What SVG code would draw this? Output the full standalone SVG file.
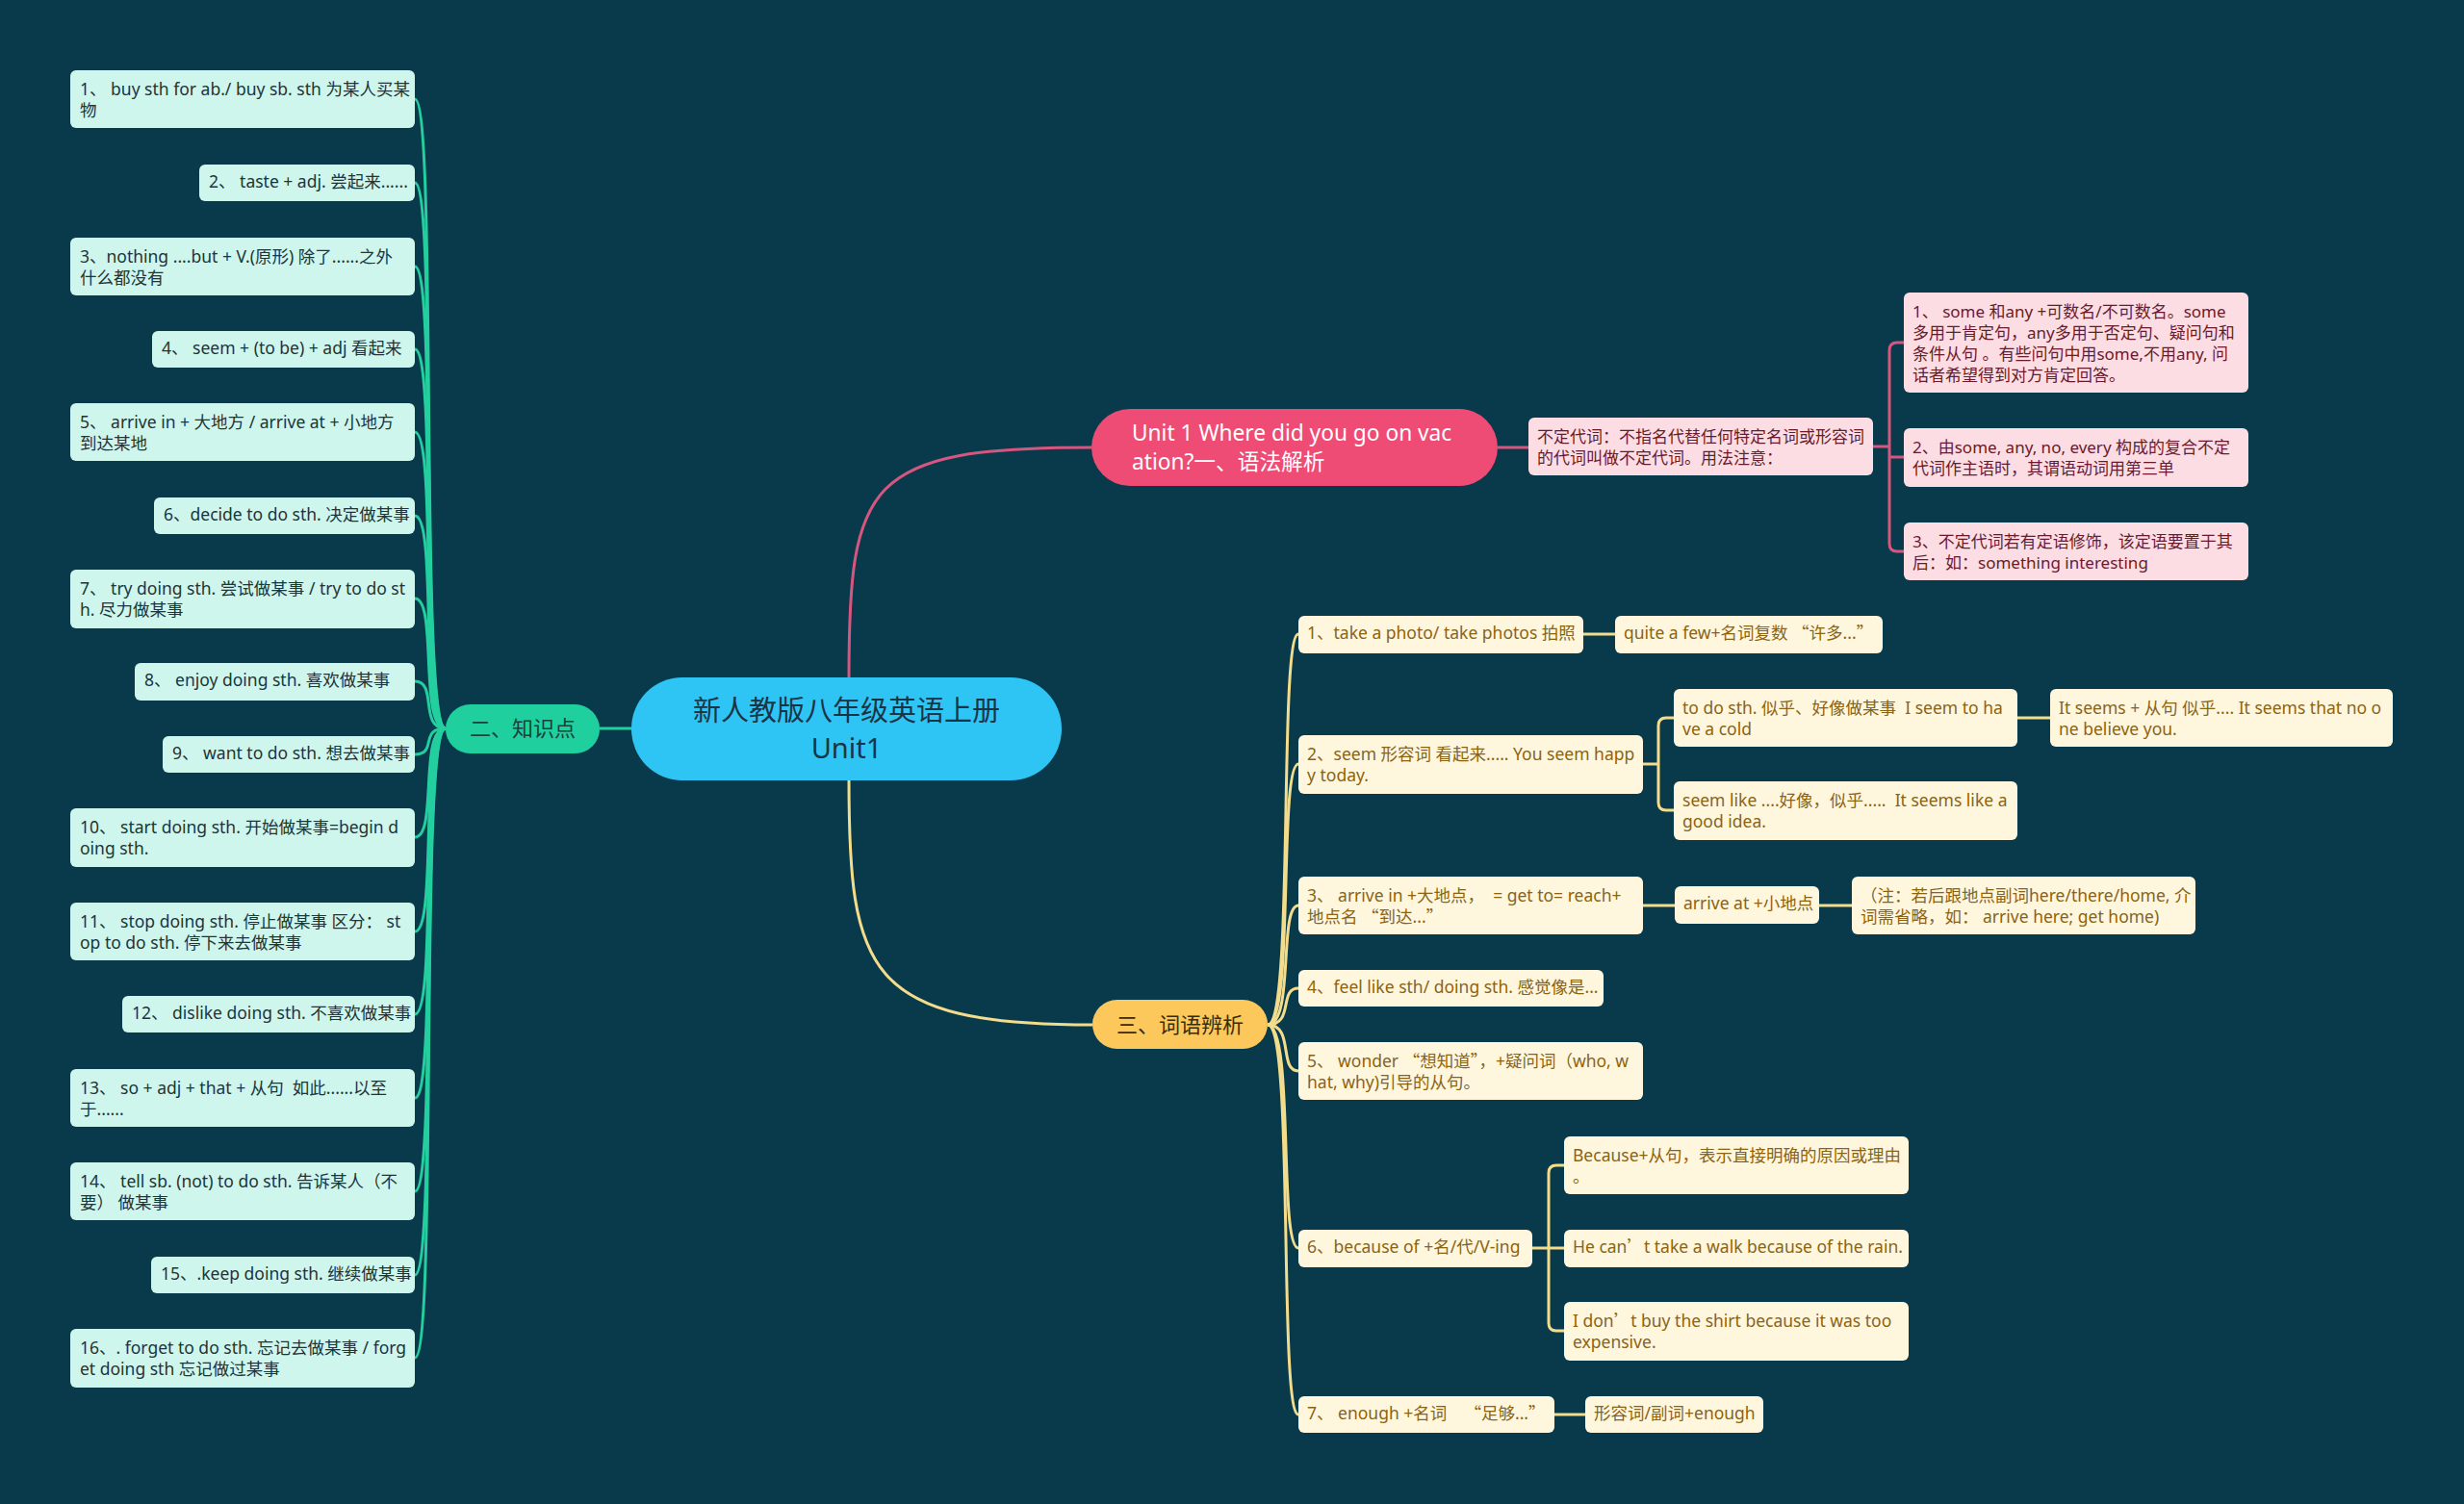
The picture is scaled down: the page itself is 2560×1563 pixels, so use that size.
<svg xmlns="http://www.w3.org/2000/svg" width="2560" height="1563" viewBox="0 0 2560 1563">
<style>
text{font-family:"Noto Sans","Noto Sans CJK SC",sans-serif;white-space:pre}
.q{font-family:"Noto Sans CJK SC",sans-serif}
.kn{fill:#cff6ec}
.kt{font-size:17.5px;fill:#20343a}
.pn{fill:#fbdde3}
.pt{font-size:17px;fill:#6a1a2e}
.yn{fill:#fff6de}
.yt{font-size:17.5px;fill:#8a6412}
.lt{fill:none;stroke:#24cf9f;stroke-width:3}
.lp{fill:none;stroke:#d65680;stroke-width:3}
.ly{fill:none;stroke:#f3dd8c;stroke-width:3}
</style>
<rect width="2560" height="1563" fill="#083a4c"/>
<g id="connectors">
<path class="lp" d="M882 704 C882 500 900 465 1134 465"/>
<path class="ly" d="M882 810 C882 1010 900 1065 1135 1065"/>
<path class="lt" d="M656 757 H623"/>
<path class="lt" d="M463 757 C435 757 455 103 431 103"/>
<path class="lt" d="M463 757 C435 757 455 190 431 190"/>
<path class="lt" d="M463 757 C435 757 455 277 431 277"/>
<path class="lt" d="M463 757 C435 757 455 363 431 363"/>
<path class="lt" d="M463 757 C435 757 455 449 431 449"/>
<path class="lt" d="M463 757 C435 757 455 536 431 536"/>
<path class="lt" d="M463 757 C435 757 455 622 431 622"/>
<path class="lt" d="M463 757 C435 757 455 708 431 708"/>
<path class="lt" d="M463 757 C435 757 455 784 431 784"/>
<path class="lt" d="M463 757 C435 757 455 870 431 870"/>
<path class="lt" d="M463 757 C435 757 455 968 431 968"/>
<path class="lt" d="M463 757 C435 757 455 1054 431 1054"/>
<path class="lt" d="M463 757 C435 757 455 1141 431 1141"/>
<path class="lt" d="M463 757 C435 757 455 1238 431 1238"/>
<path class="lt" d="M463 757 C435 757 455 1325 431 1325"/>
<path class="lt" d="M463 757 C435 757 455 1411 431 1411"/>
<path class="lp" d="M1556 465 H1588"/>
<path class="lp" d="M1946 464 H1963"/>
<path class="lp" d="M1978 356 H1971 Q1963 356 1963 364 V565 Q1963 573 1971 573 H1978"/>
<path class="lp" d="M1963 475 H1978"/>
<path class="ly" d="M1317 1065 C1345 1065 1328 659 1349 659"/>
<path class="ly" d="M1317 1065 C1345 1065 1328 794 1349 794"/>
<path class="ly" d="M1317 1065 C1345 1065 1328 941 1349 941"/>
<path class="ly" d="M1317 1065 C1345 1065 1328 1027 1349 1027"/>
<path class="ly" d="M1317 1065 C1345 1065 1328 1113 1349 1113"/>
<path class="ly" d="M1317 1065 C1345 1065 1328 1297 1349 1297"/>
<path class="ly" d="M1317 1065 C1345 1065 1328 1470 1349 1470"/>
<path class="ly" d="M1645 659 H1678"/>
<path class="ly" d="M1707 794 H1723"/>
<path class="ly" d="M1739 746 H1731 Q1723 746 1723 754 V834 Q1723 842 1731 842 H1739"/>
<path class="ly" d="M2096 746 H2130"/>
<path class="ly" d="M1707 941 H1740"/>
<path class="ly" d="M1890 941 H1924"/>
<path class="ly" d="M1592 1297 H1609"/>
<path class="ly" d="M1625 1211 H1617 Q1609 1211 1609 1219 V1375 Q1609 1383 1617 1383 H1625"/>
<path class="ly" d="M1609 1297 H1625"/>
<path class="ly" d="M1615 1470 H1647"/>
</g>
<g id="root">
<rect x="656" y="704" width="447" height="107" rx="53" fill="#2ec5f4"/>
<text x="879.5" y="749" font-size="29" fill="#193545" text-anchor="middle">新人教版八年级英语上册</text>
<text x="879.5" y="788" font-size="29" fill="#193545" text-anchor="middle">Unit1</text>
</g>
<g id="b2">
<rect x="463" y="732" width="160" height="51" rx="25.5" fill="#1fd09e"/>
<text x="543" y="765" font-size="22" fill="#16443a" text-anchor="middle">二、知识点</text>
</g>
<g id="k1"><rect class="kn" x="73" y="73" width="358" height="60" rx="6"/><text class="kt" x="83" y="99">1、 buy sth for ab./ buy sb. sth 为某人买某</text><text class="kt" x="83" y="121">物</text></g>
<g id="k2"><rect class="kn" x="207" y="171" width="224" height="38" rx="6"/><text class="kt" x="217" y="195">2、 taste + adj. 尝起来......</text></g>
<g id="k3"><rect class="kn" x="73" y="247" width="358" height="60" rx="6"/><text class="kt" x="83" y="273">3、nothing ....but + V.(原形) 除了......之外</text><text class="kt" x="83" y="295">什么都没有</text></g>
<g id="k4"><rect class="kn" x="158" y="344" width="273" height="38" rx="6"/><text class="kt" x="168" y="368">4、 seem + (to be) + adj 看起来</text></g>
<g id="k5"><rect class="kn" x="73" y="419" width="358" height="60" rx="6"/><text class="kt" x="83" y="445">5、 arrive in + 大地方 / arrive at + 小地方</text><text class="kt" x="83" y="467">到达某地</text></g>
<g id="k6"><rect class="kn" x="160" y="517" width="271" height="38" rx="6"/><text class="kt" x="170" y="541">6、decide to do sth. 决定做某事</text></g>
<g id="k7"><rect class="kn" x="73" y="592" width="358" height="61" rx="6"/><text class="kt" x="83" y="618">7、 try doing sth. 尝试做某事 / try to do st</text><text class="kt" x="83" y="640">h. 尽力做某事</text></g>
<g id="k8"><rect class="kn" x="140" y="689" width="291" height="39" rx="6"/><text class="kt" x="150" y="713">8、 enjoy doing sth. 喜欢做某事</text></g>
<g id="k9"><rect class="kn" x="169" y="765" width="262" height="38" rx="6"/><text class="kt" x="179" y="789">9、 want to do sth. 想去做某事</text></g>
<g id="k10"><rect class="kn" x="73" y="840" width="358" height="61" rx="6"/><text class="kt" x="83" y="866">10、 start doing sth. 开始做某事=begin d</text><text class="kt" x="83" y="888">oing sth.</text></g>
<g id="k11"><rect class="kn" x="73" y="938" width="358" height="60" rx="6"/><text class="kt" x="83" y="964">11、 stop doing sth. 停止做某事 区分： st</text><text class="kt" x="83" y="986">op to do sth. 停下来去做某事</text></g>
<g id="k12"><rect class="kn" x="127" y="1035" width="304" height="38" rx="6"/><text class="kt" x="137" y="1059">12、 dislike doing sth. 不喜欢做某事</text></g>
<g id="k13"><rect class="kn" x="73" y="1111" width="358" height="60" rx="6"/><text class="kt" x="83" y="1137">13、 so + adj + that + 从句  如此......以至</text><text class="kt" x="83" y="1159">于......</text></g>
<g id="k14"><rect class="kn" x="73" y="1208" width="358" height="60" rx="6"/><text class="kt" x="83" y="1234">14、 tell sb. (not) to do sth. 告诉某人（不</text><text class="kt" x="83" y="1256">要） 做某事</text></g>
<g id="k15"><rect class="kn" x="157" y="1306" width="274" height="38" rx="6"/><text class="kt" x="167" y="1330">15、.keep doing sth. 继续做某事</text></g>
<g id="k16"><rect class="kn" x="73" y="1381" width="358" height="61" rx="6"/><text class="kt" x="83" y="1407">16、. forget to do sth. 忘记去做某事 / forg</text><text class="kt" x="83" y="1429">et doing sth 忘记做过某事</text></g>
<g id="b1">
<rect x="1134" y="425" width="422" height="80" rx="40" fill="#ee4c75"/>
<text x="1176" y="458" font-size="22.7" fill="#ffffff">Unit 1 Where did you go on vac</text>
<text x="1176" y="488" font-size="22.7" fill="#ffffff">ation?一、语法解析</text>
</g>
<g id="p0"><rect class="pn" x="1588" y="434" width="358" height="60" rx="6"/><text class="pt" x="1597" y="460">不定代词：不指名代替任何特定名词或形容词</text><text class="pt" x="1597" y="482">的代词叫做不定代词。用法注意：</text></g>
<g id="p1"><rect class="pn" x="1978" y="304" width="358" height="104" rx="6"/><text class="pt" x="1987" y="330">1、 some 和any +可数名/不可数名。some</text><text class="pt" x="1987" y="352">多用于肯定句，any多用于否定句、疑问句和</text><text class="pt" x="1987" y="374">条件从句 。有些问句中用some,不用any, 问</text><text class="pt" x="1987" y="396">话者希望得到对方肯定回答。</text></g>
<g id="p2"><rect class="pn" x="1978" y="445" width="358" height="61" rx="6"/><text class="pt" x="1987" y="471">2、由some, any, no, every 构成的复合不定</text><text class="pt" x="1987" y="493">代词作主语时，其谓语动词用第三单</text></g>
<g id="p3"><rect class="pn" x="1978" y="543" width="358" height="60" rx="6"/><text class="pt" x="1987" y="569">3、不定代词若有定语修饰，该定语要置于其</text><text class="pt" x="1987" y="591">后：如：something interesting</text></g>
<g id="b3">
<rect x="1135" y="1039" width="182" height="51" rx="25.5" fill="#fcc85c"/>
<text x="1226" y="1073" font-size="22" fill="#3b2c08" text-anchor="middle">三、词语辨析</text>
</g>
<g id="y1"><rect class="yn" x="1349" y="640" width="296" height="39" rx="6"/><text class="yt" x="1358" y="664">1、take a photo/ take photos 拍照</text></g>
<g id="y1a"><rect class="yn" x="1678" y="640" width="278" height="39" rx="6"/><text class="yt" x="1687" y="664">quite a few+名词复数 <tspan class="q">“</tspan>许多...<tspan class="q">”</tspan></text></g>
<g id="y2"><rect class="yn" x="1349" y="764" width="358" height="61" rx="6"/><text class="yt" x="1358" y="790">2、seem 形容词 看起来..... You seem happ</text><text class="yt" x="1358" y="812">y today.</text></g>
<g id="y2a"><rect class="yn" x="1739" y="716" width="357" height="60" rx="6"/><text class="yt" x="1748" y="742">to do sth. 似乎、好像做某事  I seem to ha</text><text class="yt" x="1748" y="764">ve a cold</text></g>
<g id="y2a1"><rect class="yn" x="2130" y="716" width="356" height="60" rx="6"/><text class="yt" x="2139" y="742">It seems + 从句 似乎.... It seems that no o</text><text class="yt" x="2139" y="764">ne believe you.</text></g>
<g id="y2b"><rect class="yn" x="1739" y="812" width="357" height="61" rx="6"/><text class="yt" x="1748" y="838">seem like ....好像，似乎.....  It seems like a</text><text class="yt" x="1748" y="860">good idea.</text></g>
<g id="y3"><rect class="yn" x="1349" y="911" width="358" height="60" rx="6"/><text class="yt" x="1358" y="937">3、 arrive in +大地点，  = get to= reach+</text><text class="yt" x="1358" y="959">地点名 <tspan class="q">“</tspan>到达...<tspan class="q">”</tspan></text></g>
<g id="y3a"><rect class="yn" x="1740" y="921" width="150" height="39" rx="6"/><text class="yt" x="1749" y="945">arrive at +小地点</text></g>
<g id="y3b"><rect class="yn" x="1924" y="911" width="357" height="60" rx="6"/><text class="yt" x="1933" y="937">（注：若后跟地点副词here/there/home, 介</text><text class="yt" x="1933" y="959">词需省略，如： arrive here; get home)</text></g>
<g id="y4"><rect class="yn" x="1349" y="1008" width="317" height="38" rx="6"/><text class="yt" x="1358" y="1032">4、feel like sth/ doing sth. 感觉像是...</text></g>
<g id="y5"><rect class="yn" x="1349" y="1083" width="358" height="60" rx="6"/><text class="yt" x="1358" y="1109">5、 wonder <tspan class="q">“</tspan>想知道<tspan class="q">”</tspan>，+疑问词（who, w</text><text class="yt" x="1358" y="1131">hat, why)引导的从句。</text></g>
<g id="y6"><rect class="yn" x="1349" y="1278" width="243" height="39" rx="6"/><text class="yt" x="1358" y="1302">6、because of +名/代/V-ing</text></g>
<g id="y6a"><rect class="yn" x="1625" y="1181" width="358" height="60" rx="6"/><text class="yt" x="1634" y="1207">Because+从句，表示直接明确的原因或理由</text><text class="yt" x="1634" y="1229">。</text></g>
<g id="y6b"><rect class="yn" x="1625" y="1278" width="358" height="39" rx="6"/><text class="yt" x="1634" y="1302">He can<tspan class="q">’</tspan>t take a walk because of the rain.</text></g>
<g id="y6c"><rect class="yn" x="1625" y="1353" width="358" height="61" rx="6"/><text class="yt" x="1634" y="1379">I don<tspan class="q">’</tspan>t buy the shirt because it was too</text><text class="yt" x="1634" y="1401">expensive.</text></g>
<g id="y7"><rect class="yn" x="1349" y="1451" width="266" height="38" rx="6"/><text class="yt" x="1358" y="1475">7、 enough +名词    <tspan class="q">“</tspan>足够...<tspan class="q">”</tspan></text></g>
<g id="y7a"><rect class="yn" x="1647" y="1451" width="185" height="38" rx="6"/><text class="yt" x="1656" y="1475">形容词/副词+enough</text></g>
</svg>
